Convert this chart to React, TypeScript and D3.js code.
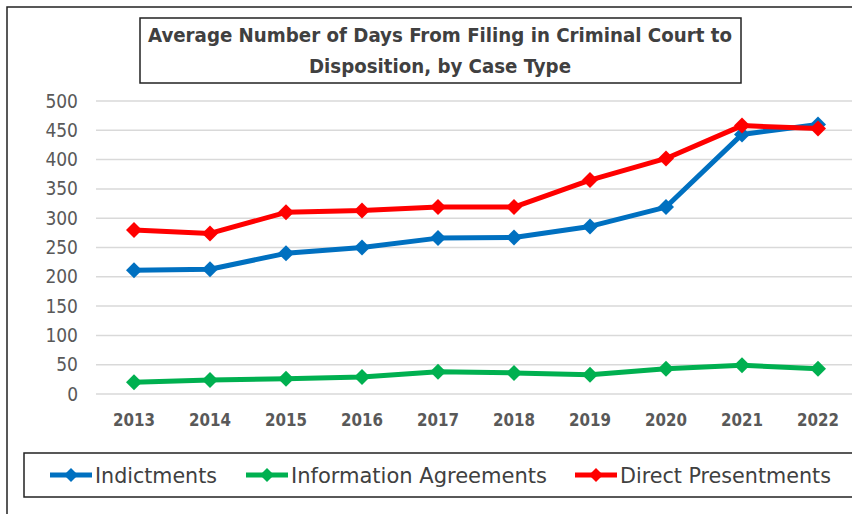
import React from "react";
import * as d3 from "d3";

const years = ["2013","2014","2015","2016","2017","2018","2019","2020","2021","2022"];
const indictments = [211, 213, 240, 250, 266, 267, 286, 319, 443, 460];
const infoAgreements = [20, 24, 26, 29, 38, 36, 33, 43, 49, 43];
const directPresentments = [280, 274, 310, 313, 319, 319, 365, 402, 458, 453];
const yTicks = [0, 50, 100, 150, 200, 250, 300, 350, 400, 450, 500];
const seriesNames = ["Indictments", "Information Agreements", "Direct Presentments"];
const seriesColors = ["#0070C0", "#00B050", "#FF0000"];

const FONT = "'DejaVu Sans Condensed', 'Liberation Sans Narrow', 'Open Sans', sans-serif";

export default function App() {
  const W = 852, H = 514;
  const x = d3.scaleBand().domain(years).range([96, 856]);
  const y = d3.scaleLinear().domain([0, 500]).range([394, 101]);
  const line = d3.line<number>().x((_, i) => x(years[i])! + x.bandwidth() / 2).y(d => y(d));
  const series = [indictments, infoAgreements, directPresentments];
  const diamond = (cx: number, cy: number, r: number) => `M${cx},${cy - r}L${cx + r},${cy}L${cx},${cy + r}L${cx - r},${cy}Z`;
  const legendX = [50, 246, 575];
  const legendLen = [122, 256, 211];
  return (
    <svg width={W} height={H} style={{ position: "absolute", left: 0, top: 0, background: "#fff" }}>
      <rect x={7} y={7} width={860} height={520} fill="#fff" stroke="#222" strokeWidth={1.5} />
      {yTicks.map(t => (
        <g key={t}>
          <line x1={96} x2={856} y1={y(t)} y2={y(t)} stroke="#d9d9d9" strokeWidth={1.5} />
          <text x={78} y={y(t) + 6.5} textAnchor="end" fontFamily={FONT} fontSize={19} fill="#595959">{t}</text>
        </g>
      ))}
      {years.map(yr => (
        <text key={yr} x={x(yr)! + x.bandwidth() / 2} y={426} textAnchor="middle" fontFamily={FONT} fontSize={17} fontWeight="bold" fill="#595959" textLength={42} lengthAdjust="spacingAndGlyphs">{yr}</text>
      ))}
      {series.map((s, si) => (
        <g key={si}>
          <path d={line(s)!} fill="none" stroke={seriesColors[si]} strokeWidth={5} strokeLinejoin="round" />
          {s.map((v, i) => (
            <path key={i} d={diamond(x(years[i])! + x.bandwidth() / 2, y(v), 8)} fill={seriesColors[si]} />
          ))}
        </g>
      ))}
      <rect x={140} y={18} width={601} height={65} fill="#fff" stroke="#222" strokeWidth={1.5} />
      <text x={440} y={42} textAnchor="middle" fontFamily={FONT} fontSize={20} fontWeight="bold" fill="#404040" textLength={584} lengthAdjust="spacingAndGlyphs">Average Number of Days From Filing in Criminal Court to</text>
      <text x={440} y={73} textAnchor="middle" fontFamily={FONT} fontSize={20} fontWeight="bold" fill="#404040" textLength={262} lengthAdjust="spacingAndGlyphs">Disposition, by Case Type</text>
      <rect x={24} y={453} width={840} height={44} fill="#fff" stroke="#222" strokeWidth={1.5} />
      {seriesNames.map((n, i) => (
        <g key={n}>
          <line x1={legendX[i]} x2={legendX[i] + 42} y1={475} y2={475} stroke={seriesColors[i]} strokeWidth={5} />
          <path d={diamond(legendX[i] + 21, 475, 7)} fill={seriesColors[i]} />
          <text x={legendX[i] + 45} y={482.5} fontFamily={FONT} fontSize={21} fill="#404040" textLength={legendLen[i]} lengthAdjust="spacingAndGlyphs">{n}</text>
        </g>
      ))}
    </svg>
  );
}
